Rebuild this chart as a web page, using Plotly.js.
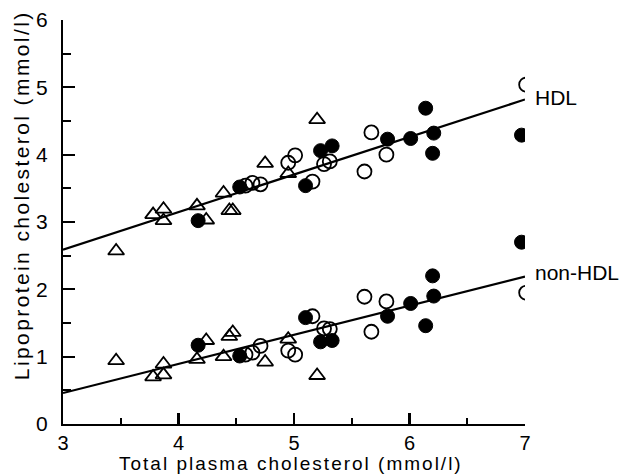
<!DOCTYPE html>
<html>
<head>
<meta charset="utf-8">
<script src="https://cdn.plot.ly/plotly-3.0.1.min.js"></script>
<style>html,body{margin:0;padding:0;background:#fff;}#chart{width:624px;height:475px;}</style>
</head>
<body>
<div id="chart"></div>
<script>
// Triangles
const triX    = [3.46, 3.78, 3.87, 3.87, 4.16, 4.24, 4.39, 4.44, 4.47, 4.75, 4.95, 5.20];
const triHDL  = [2.57, 3.11, 3.19, 3.02, 3.24, 3.03, 3.43, 3.17, 3.17, 3.87, 3.72, 4.52];
const triNon  = [0.94, 0.70, 0.89, 0.73, 0.96, 1.24, 1.00, 1.30, 1.36, 0.92, 1.26, 0.72];
// Filled circles
const filX    = [4.17, 4.53, 5.10, 5.23, 5.33, 5.81, 6.01, 6.14, 6.21, 6.20, 6.97];
const filHDL  = [3.02, 3.52, 3.54, 4.06, 4.13, 4.23, 4.24, 4.69, 4.32, 4.02, 4.29];
const filNon  = [1.17, 1.01, 1.58, 1.22, 1.24, 1.60, 1.79, 1.46, 1.90, 2.20, 2.70];
// Open circles
const opnX    = [4.58, 4.64, 4.71, 4.95, 5.01, 5.16, 5.26, 5.31, 5.61, 5.67, 5.80, 7.01];
const opnHDL  = [3.54, 3.58, 3.56, 3.88, 3.99, 3.60, 3.86, 3.90, 3.75, 4.33, 4.00, 5.04];
const opnNon  = [1.03, 1.06, 1.16, 1.09, 1.03, 1.60, 1.42, 1.41, 1.89, 1.37, 1.82, 1.95];
// Regression lines
const lineX   = [3, 7];
const hdlLine = [2.59, 4.82];
const nonLine = [0.46, 2.19];
// Axis ticks
const xMajor = [3, 4, 5, 6, 7];
const xMinor = [3.5, 4.5, 5.5, 6.5];
const yMajor = [0, 1, 2, 3, 4, 5, 6];
const yMinor = [0.5, 1.5, 2.5, 3.5, 4.5, 5.5];

const FONT = 'Liberation Sans, Arial, Helvetica, sans-serif';
const PLOT_W = 462, PLOT_H = 404;
const openCircle = {symbol:'circle-open', size:14, color:'#000', line:{width:1.8, color:'#000'}};
const fillCircle = {symbol:'circle', size:14, color:'#000', line:{width:1, color:'#000'}};
const openTri = {symbol:'triangle-up-open', size:14, color:'#000', line:{width:1.8, color:'#000'}};

const traces = [
  {x:lineX, y:hdlLine, mode:'lines', line:{color:'#000', width:2.2}},
  {x:lineX, y:nonLine, mode:'lines', line:{color:'#000', width:2.2}},
  {x:triX, y:triHDL, mode:'markers', marker:openTri},
  {x:triX, y:triNon, mode:'markers', marker:openTri},
  {x:filX, y:filHDL, mode:'markers', marker:fillCircle},
  {x:filX, y:filNon, mode:'markers', marker:fillCircle},
  {x:opnX, y:opnHDL, mode:'markers', marker:openCircle},
  {x:opnX, y:opnNon, mode:'markers', marker:openCircle}
];

const layout = {
  width:624, height:475,
  margin:{l:63, r:99, t:20, b:51},
  paper_bgcolor:'#fff', plot_bgcolor:'#fff',
  showlegend:false,
  font:{family:FONT, color:'#000', size:20},
  xaxis:{
    range:[3,7], showgrid:false, zeroline:false,
    showline:true, linecolor:'#000', linewidth:2.2,
    tickmode:'array', tickvals:xMajor, ticktext:xMajor.map(String),
    ticks:'inside', ticklen:11, tickwidth:2.2, tickcolor:'#000',
    minor:{tickvals:xMinor, ticks:'inside', ticklen:6, tickwidth:2.2, tickcolor:'#000', showgrid:false},
    tickfont:{size:20}, ticklabelstandoff:0
  },
  yaxis:{
    range:[0,6], showgrid:false, zeroline:false,
    showline:true, linecolor:'#000', linewidth:2.2,
    tickmode:'array', tickvals:yMajor, ticktext:yMajor.map(String),
    ticks:'inside', ticklen:12, tickwidth:2.2, tickcolor:'#000',
    minor:{tickvals:yMinor, ticks:'inside', ticklen:8, tickwidth:2.2, tickcolor:'#000', showgrid:false},
    tickfont:{size:21}, ticklabelstandoff:9
  },
  annotations:[
    {x:0.494, y:-51/PLOT_H, xref:'paper', yref:'paper', text:'Total plasma cholesterol (mmol/l)', showarrow:false, xanchor:'center', yanchor:'bottom', yshift:0, borderpad:0, font:{size:19}},
    {x:-41/PLOT_W, y:0.565, xref:'paper', yref:'paper', text:'Lipoprotein cholesterol (mmol/l)', textangle:-90, showarrow:false, xanchor:'center', yanchor:'middle', font:{size:21}},
    {x:7, y:hdlLine[1], xref:'x', yref:'y', text:'HDL', showarrow:false, xanchor:'left', yanchor:'middle', xshift:8, yshift:2, font:{size:21}},
    {x:7, y:nonLine[1], xref:'x', yref:'y', text:'non-HDL', showarrow:false, xanchor:'left', yanchor:'middle', xshift:8, yshift:4, font:{size:21}}
  ]
};

Plotly.newPlot('chart', traces, layout, {displayModeBar:false, staticPlot:true}).then(function(){
  const texts = document.querySelectorAll('.annotation-text');
  if (texts[0]) texts[0].style.letterSpacing = '2px';
  if (texts[1]) texts[1].style.letterSpacing = '2.4px';
});
</script>
</body>
</html>
